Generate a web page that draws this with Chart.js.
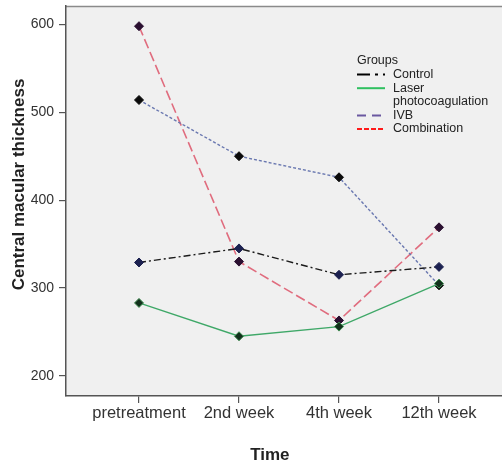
<!DOCTYPE html>
<html>
<head>
<meta charset="utf-8">
<script src="https://cdn.jsdelivr.net/npm/chart.js@4"></script>
<style>
  html, body { margin: 0; padding: 0; background: #fff; overflow: hidden; }
  #wrap { width: 502px; height: 463px; }
</style>
</head>
<body>
<div id="wrap"><canvas id="chart"></canvas></div>
<script>
// data
const timePoints  = ["pretreatment", "2nd week", "4th week", "12th week"];
const groupNames  = ["Control", "Laser\nphotocoagulation", "IVB", "Combination"];
const control     = [329, 345, 315, 324];
const laser       = [283, 245, 256, 305];
const ivb         = [514, 450, 426, 303];
const combination = [598, 330, 263, 369];
const yTicks      = [200, 300, 400, 500, 600];

const FONT = "'Liberation Sans', Arial, sans-serif";

function pts(arr) { return arr.map((v, i) => ({ x: i, y: v })); }

// ---------------------------
// plot background + frame
// ---------------------------
const plotBg = {
  id: "plotBg",
  beforeDraw(chart) {
    const { ctx, chartArea: a } = chart;
    ctx.save();
    ctx.fillStyle = "#f0f0f0";
    ctx.fillRect(a.left, a.top, a.right - a.left, a.bottom - a.top);
    ctx.strokeStyle = "#8a8a8a";
    ctx.lineWidth = 1.5;
    ctx.beginPath();
    ctx.moveTo(a.left, a.top + 0.5);
    ctx.lineTo(a.right, a.top + 0.5);
    ctx.stroke();
    ctx.restore();
  }
};

// ---------------------------
// SPSS style legend
// ---------------------------
const groupLegend = {
  id: "groupLegend",
  afterDraw(chart, args, opts) {
    const { ctx } = chart;
    let x = opts.x, y = opts.y;
    ctx.save();
    ctx.font = "12.5px " + FONT;
    ctx.fillStyle = "#222";
    ctx.textBaseline = "middle";
    ctx.fillText("Groups", x, y);
    y += opts.lineH;
    chart.data.datasets.forEach((ds, i) => {
      const st = opts.styles[i];
      ctx.save();
      ctx.strokeStyle = st.color;
      ctx.lineWidth = 2;
      ctx.setLineDash(st.dash);
      ctx.beginPath();
      ctx.moveTo(x, y);
      ctx.lineTo(x + 28, y);
      ctx.stroke();
      ctx.restore();
      ds.label.split("\n").forEach(line => {
        ctx.fillText(line, x + 36, y);
        y += opts.lineH;
      });
    });
    ctx.restore();
  }
};

const markerStyle = { pointStyle: "rectRot", pointRadius: 4.5, pointHoverRadius: 4.5, pointBorderWidth: 1 };

new Chart(document.getElementById("chart"), {
  type: "line",
  data: {
    datasets: [
      { label: groupNames[0], data: pts(control), borderColor: "#1a1a1a", borderWidth: 1.4,
        borderDash: [7, 3, 2, 3], pointBackgroundColor: "#1c2150", pointBorderColor: "#1c2150", ...markerStyle },
      { label: groupNames[1], data: pts(laser), borderColor: "#3fa868", borderWidth: 1.4,
        borderDash: [], pointBackgroundColor: "#12301c", pointBorderColor: "#3f8a50", ...markerStyle },
      { label: groupNames[2], data: pts(ivb), borderColor: "#6a78b0", borderWidth: 1.4,
        borderDash: [3, 2], pointBackgroundColor: "#0a0a0a", pointBorderColor: "#0a0a0a", ...markerStyle },
      { label: groupNames[3], data: pts(combination), borderColor: "#e06c7e", borderWidth: 1.6,
        borderDash: [10, 4], pointBackgroundColor: "#2a0f30", pointBorderColor: "#2a0f30", ...markerStyle }
    ]
  },
  options: {
    responsive: true,
    maintainAspectRatio: false,
    animation: false,
    layout: { autoPadding: false, padding: { top: 6, right: 0, left: 0, bottom: 0 } },
    plugins: {
      legend: { display: false },
      tooltip: { enabled: false },
      groupLegend: {
        x: 357, y: 61, lineH: 13.6,
        styles: [
          { color: "#000", dash: [13, 5, 3, 5] },
          { color: "#2fc060", dash: [] },
          { color: "#6a58a0", dash: [9, 6] },
          { color: "#ff1a1a", dash: [5, 2] }
        ]
      }
    },
    scales: {
      x: {
        type: "linear",
        min: -0.73,
        max: 3.63,
        afterBuildTicks: s => { s.ticks = timePoints.map((_, i) => ({ value: i })); },
        afterFit: s => { s.height = 67; s.paddingLeft = 0; s.paddingRight = 0; },
        grid: { drawOnChartArea: false, drawTicks: true, tickLength: 7, color: "#555", lineWidth: 1.2 },
        border: { display: true, color: "#555", width: 1.5 },
        ticks: {
          callback: v => timePoints[v] ?? "",
          color: "#333", padding: 1, maxRotation: 0,
          font: { family: FONT, size: 16.5 }
        },
        title: {
          display: true, text: "Time      ", color: "#222",
          padding: { top: 24, bottom: -3 },
          font: { family: FONT, size: 17, weight: "bold" }
        }
      },
      y: {
        min: 177,
        max: 621,
        afterBuildTicks: s => { s.ticks = yTicks.map(v => ({ value: v })); },
        afterFit: s => { s.width = 66; s.paddingTop = 0; s.paddingBottom = 0; },
        grid: { drawOnChartArea: false, drawTicks: true, tickLength: 7, color: "#555", lineWidth: 1.2 },
        border: { display: true, color: "#555", width: 1.5 },
        ticks: {
          color: "#333", padding: 5,
          font: { family: FONT, size: 14 }
        },
        title: {
          display: true, text: "       Central macular thickness", color: "#222",
          padding: { top: 9, bottom: 0 },
          font: { family: FONT, size: 17, weight: "bold" }
        }
      }
    }
  },
  plugins: [plotBg, groupLegend]
});
</script>
</body>
</html>
